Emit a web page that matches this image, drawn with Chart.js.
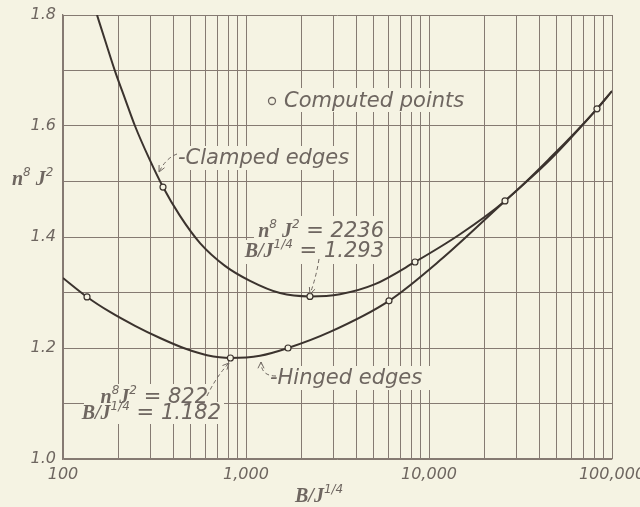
<!DOCTYPE html>
<html>
<head>
<meta charset="utf-8">
<script src="https://cdn.jsdelivr.net/npm/chart.js@4/dist/chart.umd.min.js"></script>
<style>
  html, body { margin: 0; padding: 0; background: #f5f3e3; }
  #chartDiv { width: 640px; height: 507px; }
</style>
</head>
<body>
<div id="chartDiv"><canvas id="myChart" width="640" height="507"></canvas></div>
<script>
// curves
let clampedX = [153.4, 169.6, 192.4, 218.3, 247.5, 295.1, 351.9, 435.9, 560.7, 767.8, 1052, 1534,
  2236, 3264, 5070, 8386, 14770, 26020, 46420, 82800, 100000];
let clampedY = [1.800, 1.755, 1.699, 1.649, 1.600, 1.542, 1.490, 1.438, 1.389, 1.348, 1.321, 1.299,
  1.293, 1.297, 1.315, 1.355, 1.405, 1.465, 1.544, 1.631, 1.663];
let hingedX = [100, 135.3, 180.6, 247.5, 338.9, 464.2, 612.2, 822, 1193, 1697, 2877, 6045,
  11485, 26020, 46420, 82800, 100000];
let hingedY = [1.326, 1.292, 1.265, 1.240, 1.218, 1.199, 1.187, 1.182, 1.186, 1.200, 1.229, 1.285,
  1.358, 1.465, 1.541, 1.631, 1.663];
// computed points (open circles)
let pointsX = [135.3, 351.9, 822, 1697, 2236, 6045, 8386, 26020, 82800];
let pointsY = [1.292, 1.490, 1.182, 1.200, 1.293, 1.285, 1.355, 1.465, 1.631];
// gridlines / tick labels
let xTicks = [100, 200, 300, 400, 500, 600, 700, 800, 900,
  1000, 2000, 3000, 4000, 5000, 6000, 7000, 8000, 9000,
  10000, 20000, 30000, 40000, 50000, 60000, 70000, 80000, 90000, 100000];
let xLabels = { 100: "100", 1000: "1,000", 10000: "10,000", 100000: "100,000" };

let bg = "#f5f3e3";
let ink = "#3b332e";
let gridColor = "#857a72";
let textColor = "#6e6660";
let sans = "'DejaVu Sans', sans-serif";
let serif = "'Liberation Serif', serif";

function toXY(xs, ys) {
  return xs.map((x, i) => ({ x: x, y: ys[i] }));
}

function rich(ctx, parts, x, y, align) {
  let w = 0;
  parts.forEach((p) => {
    ctx.font = p[1];
    w += ctx.measureText(p[0]).width;
  });
  let cx = align === "right" ? x - w : x;
  ctx.textAlign = "left";
  ctx.textBaseline = "alphabetic";
  parts.forEach((p) => {
    ctx.font = p[1];
    ctx.fillText(p[0], cx, y + (p[2] || 0));
    cx += ctx.measureText(p[0]).width;
  });
}

function dashedArrow(ctx, x0, y0, cx, cy, x1, y1) {
  ctx.save();
  ctx.strokeStyle = textColor;
  ctx.lineWidth = 1;
  ctx.setLineDash([4, 3]);
  ctx.beginPath();
  ctx.moveTo(x0, y0);
  ctx.quadraticCurveTo(cx, cy, x1, y1);
  ctx.stroke();
  ctx.setLineDash([]);
  let a = Math.atan2(y1 - cy, x1 - cx);
  ctx.beginPath();
  ctx.moveTo(x1 - 7 * Math.cos(a - 0.45), y1 - 7 * Math.sin(a - 0.45));
  ctx.lineTo(x1, y1);
  ctx.lineTo(x1 - 7 * Math.cos(a + 0.45), y1 - 7 * Math.sin(a + 0.45));
  ctx.stroke();
  ctx.restore();
}

let txt = "italic 21px " + sans;
let big = "bold italic 20px " + serif;
let sup = "italic 12px " + sans;

// blank boxes behind annotation text (grid is broken there)
let blanks = [
  [262, 88, 210, 24],
  [176, 146, 176, 24],
  [254, 216, 134, 26],
  [244, 240, 144, 24],
  [268, 366, 162, 24],
  [98, 384, 114, 22],
  [84, 402, 140, 22],
];

const annotations = {
  id: "annotations",
  beforeDatasetsDraw(chart) {
    let ctx = chart.ctx;
    ctx.save();
    ctx.fillStyle = bg;
    blanks.forEach((b) => ctx.fillRect(b[0], b[1], b[2], b[3]));
    ctx.restore();
  },
  afterDraw(chart) {
    let ctx = chart.ctx;
    ctx.save();
    ctx.fillStyle = textColor;

    // legend
    ctx.strokeStyle = textColor;
    ctx.lineWidth = 1.3;
    ctx.beginPath();
    ctx.arc(272, 101, 3.5, 0, Math.PI * 2);
    ctx.stroke();
    rich(ctx, [["Computed points", txt]], 284, 107, "left");

    rich(ctx, [["-Clamped edges", txt]], 178, 164, "left");
    rich(ctx, [["-Hinged edges", txt]], 270, 384, "left");

    rich(ctx, [["n", big], ["8", sup, -9], [" J", big], ["2", sup, -9], [" = 2236", txt]], 384, 237, "right");
    rich(ctx, [["B/J", big], ["1/4", sup, -9], [" = 1.293", txt]], 384, 257, "right");
    rich(ctx, [["n", big], ["8", sup, -9], ["J", big], ["2", sup, -9], [" = 822", txt]], 208, 403, "right");
    rich(ctx, [["B/J", big], ["1/4", sup, -9], [" = 1.182", txt]], 221, 419, "right");

    // axis titles
    rich(ctx, [["n", big], ["8", sup, -9], [" J", big], ["2", sup, -9]], 12, 185, "left");
    rich(ctx, [["B/J", big], ["1/4", sup, -9]], 295, 502, "left");

    dashedArrow(ctx, 177, 154, 166, 158, 159, 172);
    dashedArrow(ctx, 319, 259, 316, 278, 310, 294);
    dashedArrow(ctx, 276, 376, 261, 376, 261, 362);
    dashedArrow(ctx, 207, 396, 216, 377, 229, 363);
    ctx.restore();
  },
};

const config = {
  type: "scatter",
  data: {
    datasets: [
      {
        label: "Computed points",
        data: toXY(pointsX, pointsY),
        pointRadius: 3,
        pointBackgroundColor: bg,
        pointBorderColor: ink,
        pointBorderWidth: 1.2,
        order: 0,
      },
      {
        label: "Clamped edges",
        data: toXY(clampedX, clampedY),
        showLine: true,
        borderColor: ink,
        borderWidth: 2,
        pointRadius: 0,
        cubicInterpolationMode: "monotone",
        order: 1,
      },
      {
        label: "Hinged edges",
        data: toXY(hingedX, hingedY),
        showLine: true,
        borderColor: ink,
        borderWidth: 2,
        pointRadius: 0,
        cubicInterpolationMode: "monotone",
        order: 1,
      },
    ],
  },
  options: {
    responsive: false,
    animation: false,
    devicePixelRatio: 1,
    layout: { autoPadding: false, padding: { top: 15, right: 28, left: 0, bottom: 0 } },
    plugins: { legend: { display: false }, tooltip: { enabled: false } },
    scales: {
      x: {
        type: "logarithmic",
        min: 100,
        max: 100000,
        afterBuildTicks: (scale) => {
          scale.ticks = xTicks.map((v) => ({ value: v }));
        },
        afterFit: (scale) => {
          scale.height = 48;
          scale.paddingLeft = 0;
          scale.paddingRight = 0;
        },
        grid: { color: gridColor, lineWidth: 1, drawTicks: false },
        border: { color: gridColor, width: 1.3 },
        ticks: {
          autoSkip: false,
          maxRotation: 0,
          padding: 6,
          color: textColor,
          font: { family: sans, size: 16, style: "italic" },
          callback: (v) => xLabels[v] || "",
        },
      },
      y: {
        min: 1.0,
        max: 1.8,
        afterFit: (scale) => {
          scale.width = 63;
          scale.paddingTop = 0;
          scale.paddingBottom = 0;
        },
        grid: { color: gridColor, lineWidth: 1, drawTicks: false },
        border: { color: gridColor, width: 1.3 },
        ticks: {
          stepSize: 0.1,
          padding: 7,
          color: textColor,
          font: { family: sans, size: 16, style: "italic" },
          callback: (v) => (Math.round(v * 10) % 2 === 0 ? v.toFixed(1) : ""),
        },
      },
    },
  },
  plugins: [annotations],
};

const newChart = new Chart(document.getElementById("myChart"), config);
</script>
</body>
</html>
